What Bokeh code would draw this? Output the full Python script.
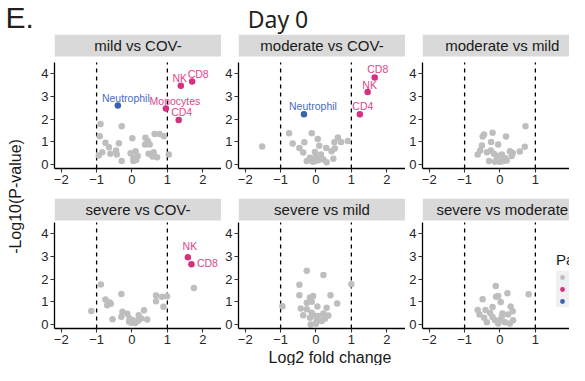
import math
from bokeh.plotting import figure
from bokeh.models import ColumnDataSource, FixedTicker, Legend, LegendItem, Range1d
from bokeh.layouts import row, column
from bokeh.embed import file_html
from bokeh.resources import INLINE
from bokeh.core.properties import value

# ---------------- data ----------------
FACETS = ["mild vs COV-", "moderate vs COV-", "moderate vs mild",
          "severe vs COV-", "severe vs mild", "severe vs moderate"]
X_TICKS = [-2, -1, 0, 1, 2]
Y_TICKS = [0, 1, 2, 3, 4]
FC_THRESH = [-1, 1]
LEGEND_TITLE = "Padj"
LEGEND_LABELS = ["NS", "Up", "Down"]
PANEL_LETTER = "E."
MAIN_TITLE = "Day 0"
X_TITLE = "Log2 fold change"
Y_TITLE = "-Log10(P-value)"

# non-significant (grey) cell types per comparison
ns_x_1 = [-0.89, -0.29, -0.91, -0.75, -0.37, -0.65, -0.84, -0.94, -0.61, -0.45, -0.43, -0.29, 0.01, -0.04,
          0.10, 0.04, 0.16, 0.04, 0.12, 0.38, 0.45, 0.50, 0.37, 0.64, 0.78, 0.90, 0.47, 0.61, 0.71, 0.58, 1.04]
ns_y_1 = [1.79, 1.69, 1.25, 0.96, 0.94, 0.76, 0.54, 0.40, 0.47, 0.62, 0.44, 0.15, 1.16, 0.50,
          0.59, 0.29, 0.37, 0.15, 0.20, 1.18, 1.03, 0.88, 0.88, 1.35, 1.35, 1.25, 0.47, 0.54, 0.32, 0.35, 0.44]
ns_x_2 = [-1.52, -0.76, -0.66, -0.33, -0.47, -0.36, -0.12, 0.05, 0.09, 0.29, -0.03, 0.00, 0.14, -0.17,
          -0.26, -0.09, 0.07, 0.21, 0.30, 0.49, 0.44, 0.53, 0.52, 0.62, 0.71, 0.90, -0.03, 0.13]
ns_y_2 = [0.79, 1.38, 0.93, 0.98, 0.73, 0.53, 1.38, 1.13, 0.83, 0.73, 0.55, 0.37, 0.44, 0.30,
          0.15, 0.12, 0.19, 0.22, 0.10, 0.25, 0.59, 0.71, 0.98, 1.19, 0.99, 1.04, 0.15, 0.27]
ns_x_3 = [0.72, 0.70, 0.56, -0.45, -0.49, -0.21, 0.17, -0.25, -0.05, -0.51, -0.56, -0.63, -0.37, -0.26,
          -0.17, 0.05, 0.14, -0.09, -0.31, 0.00, 0.09, 0.19, 0.28, 0.36, 0.33, -0.14, -0.05]
ns_y_3 = [1.69, 0.78, 0.57, 1.32, 1.24, 1.40, 1.24, 0.99, 0.88, 0.84, 0.62, 0.44, 0.54, 0.62,
          0.47, 0.44, 0.29, 0.22, 0.15, 0.12, 0.15, 0.18, 0.59, 0.51, 0.37, 0.12, 0.37]
ns_x_4 = [-0.88, 1.75, -0.30, -0.75, -0.63, -0.70, -0.60, -1.15, -0.55, -0.27, -0.30, -0.13, -0.07, 0.03,
          -0.08, 0.09, 0.19, 0.26, 0.34, 0.43, 0.68, 0.68, 0.85, 0.99, 0.89, 0.17, -0.02]
ns_y_4 = [1.77, 1.61, 1.35, 1.10, 0.97, 0.85, 0.92, 0.60, 0.23, 0.56, 0.34, 0.48, 0.26, 0.19,
          0.12, 0.07, 0.41, 0.26, 0.63, 0.22, 1.28, 1.03, 1.23, 1.25, 0.78, 0.15, 0.08]
ns_x_5 = [-0.26, 0.21, -0.47, 1.00, -0.47, 0.41, -0.08, -0.17, -0.26, 0.60, -0.95, -0.43, -0.26, 0.04,
          0.30, -0.36, -0.12, -0.05, 0.07, 0.21, 0.35, -0.17, 0.02, -0.15, 0.00, 0.16, 0.25, -0.12]
ns_y_5 = [2.37, 2.18, 1.75, 1.78, 1.29, 1.29, 1.26, 1.19, 0.96, 0.93, 0.81, 0.71, 0.67, 0.79,
          0.74, 0.41, 0.52, 0.40, 0.37, 0.49, 0.40, 0.30, 0.15, 0.00, 0.03, 0.15, 0.25, 1.00]
ns_x_6 = [-0.12, 0.21, 0.81, -0.05, -0.11, -0.49, 0.02, -0.21, 0.30, -0.41, -0.63, -0.58, -0.28, 0.36,
          0.23, -0.45, -0.37, -0.14, 0.00, 0.07, 0.14, -0.05, 0.28, 0.37, 0.05, -0.21]
ns_y_6 = [1.70, 1.38, 1.33, 1.26, 1.22, 1.11, 0.99, 0.77, 0.79, 0.64, 0.64, 0.44, 0.51, 0.59,
          0.44, 0.30, 0.10, 0.19, 0.19, 0.49, 0.10, 0.04, 0.04, 0.19, 0.34, 0.33]

# significant cell types per comparison
sig_name_1 = ["Neutrophil", "NK", "CD8", "Monocytes", "CD4"]
sig_x_1 = [-0.40, 1.38, 1.70, 0.96, 1.32]
sig_y_1 = [2.60, 3.47, 3.66, 2.47, 1.96]
sig_dir_1 = ["Down", "Up", "Up", "Up", "Up"]
sig_name_2 = ["CD8", "NK", "CD4", "Neutrophil"]
sig_x_2 = [1.66, 1.46, 1.24, -0.34]
sig_y_2 = [3.84, 3.20, 2.22, 2.22]
sig_dir_2 = ["Up", "Up", "Up", "Down"]
sig_name_4 = ["NK", "CD8"]
sig_x_4 = [1.58, 1.68]
sig_y_4 = [2.97, 2.66]
sig_dir_4 = ["Up", "Up"]

# label nudges (pixels, as placed by the repel step)
lab_dx_1 = [8, -1, 6, 9, 3]
lab_dy_1 = [-8, -8, -8, -8, -8]
lab_dx_2 = [3, 2, 3, 9]
lab_dy_2 = [-8, -7, -8, -8]
lab_dx_4 = [2, 16]
lab_dy_4 = [-11, -1]

NS_X = [ns_x_1, ns_x_2, ns_x_3, ns_x_4, ns_x_5, ns_x_6]
NS_Y = [ns_y_1, ns_y_2, ns_y_3, ns_y_4, ns_y_5, ns_y_6]
SIG = {0: (sig_name_1, sig_x_1, sig_y_1, sig_dir_1, lab_dx_1, lab_dy_1),
       1: (sig_name_2, sig_x_2, sig_y_2, sig_dir_2, lab_dx_2, lab_dy_2),
       3: (sig_name_4, sig_x_4, sig_y_4, sig_dir_4, lab_dx_4, lab_dy_4)}

# ---------------- style ----------------
GREY = "#BEBEBE"
PINK = "#D62F80"
BLUE = "#3A62B4"
PT_COL = {"Up": PINK, "Down": BLUE}
TXT_COL = {"Up": "#E0448C", "Down": "#4A6CC0"}
STRIP_BG = "#D9D9D9"
FONT = "Liberation Sans"

X0, X1 = -2.19, 2.53
Y0, Y1 = -0.176, 4.5
PANEL_W, PANEL_H = 167, 106
STRIP_H = 22
UX = PANEL_W / (X1 - X0)
UY = PANEL_H / (Y1 - Y0)


def make_panel(k, left, bottom, frame_w, gap):
    frame_h = PANEL_H + gap + STRIP_H
    y_strip0 = Y1 + gap / UY
    y_top = Y1 + (gap + STRIP_H) / UY
    x_end = X0 + frame_w / UX
    p = figure(width=left + frame_w, height=frame_h + bottom,
               x_range=Range1d(X0, x_end), y_range=Range1d(Y0, y_top),
               output_backend="svg", toolbar_location=None,
               min_border_left=left, min_border_right=0, min_border_top=0,
               min_border_bottom=bottom)
    p.outline_line_color = None
    p.xgrid.visible = False
    p.ygrid.visible = False
    p.background_fill_color = "white"

    # facet strip (title kept inside the visible part of a cropped panel)
    p.quad(left=[X0], right=[X1], bottom=[y_strip0], top=[y_top],
           fill_color=STRIP_BG, line_color=None)
    cx = min((X0 + X1) / 2, x_end - 1.9)
    p.text(x=[cx], y=[(y_strip0 + y_top) / 2], text=[FACETS[k]],
           text_align="center", text_baseline="middle",
           text_font=value(FONT), text_font_size="15px", text_color="#1A1A1A")

    # fold-change thresholds
    p.segment(x0=FC_THRESH, x1=FC_THRESH, y0=[Y0] * len(FC_THRESH), y1=[Y1] * len(FC_THRESH),
              line_color="black", line_width=1.3, line_dash="4 4")

    r_ns = p.scatter(x=NS_X[k], y=NS_Y[k], size=6.5, fill_color=GREY, line_color=None)
    if k in SIG:
        names, xs, ys, dirs, dx, dy = SIG[k]
        src = ColumnDataSource(dict(x=xs, y=ys, name=names,
                                    pc=[PT_COL[d] for d in dirs],
                                    tc=[TXT_COL[d] for d in dirs], dx=dx, dy=dy))
        p.scatter("x", "y", source=src, size=6.5, fill_color="pc", line_color=None)
        p.text("x", "y", text="name", source=src, x_offset="dx", y_offset="dy",
               text_align="center", text_baseline="middle", text_color="tc",
               text_font=value(FONT), text_font_size="10.5px")

    for ax in (p.xaxis[0], p.yaxis[0]):
        ax.axis_line_color = "black"
        ax.axis_line_width = 1.3
        ax.major_tick_line_color = "#333333"
        ax.major_tick_line_width = 1.1
        ax.major_tick_out = 4
        ax.major_tick_in = 0
        ax.minor_tick_line_color = None
        ax.major_label_text_font = FONT
        ax.major_label_text_font_size = "13px"
        ax.major_label_text_color = "#262626"
        ax.major_label_standoff = 2
    p.xaxis[0].ticker = FixedTicker(ticks=X_TICKS)
    p.yaxis[0].ticker = FixedTicker(ticks=Y_TICKS)
    p.yaxis[0].bounds = (Y0, Y1)
    return p, r_ns


def bare(width, height):
    # pixel-space canvas, y measured from the top
    f = figure(width=width, height=height, x_range=Range1d(0, width), y_range=Range1d(height, 0),
               x_axis_type=None, y_axis_type=None, output_backend="svg", toolbar_location=None,
               min_border_left=0, min_border_right=0, min_border_top=0, min_border_bottom=0)
    f.outline_line_color = None
    f.xgrid.visible = False
    f.ygrid.visible = False
    return f


HEAD_H = 34
B1, B2 = 30, 20
GAP1, GAP2 = 6, 2
YLAB_W = 32
FOOT_H = 17

panels = []
for k in range(6):
    c = k % 3
    b = B1 if k < 3 else B2
    g = GAP1 if k < 3 else GAP2
    if c == 0:
        pp = make_panel(k, 22, b, PANEL_W, g)
    elif c == 1:
        pp = make_panel(k, 17, b, PANEL_W, g)
    else:
        pp = make_panel(k, 17, b, 147, g)
    panels.append(pp)

# legend in the last panel (key-only renderers carry no visible point)
p6, r6 = panels[5]
r_up = p6.scatter(x=[float("nan")], y=[float("nan")], size=6.5, fill_color=PINK, line_color=None)
r_dn = p6.scatter(x=[float("nan")], y=[float("nan")], size=6.5, fill_color=BLUE, line_color=None)
leg = Legend(items=[LegendItem(label=LEGEND_LABELS[0], renderers=[r6], index=0),
                    LegendItem(label=LEGEND_LABELS[1], renderers=[r_up], index=0),
                    LegendItem(label=LEGEND_LABELS[2], renderers=[r_dn], index=0)],
             title=LEGEND_TITLE, location=(134, 21))
leg.background_fill_alpha = 0
leg.border_line_color = None
leg.padding = 0
leg.margin = 0
leg.spacing = 0
leg.glyph_width = 12
leg.glyph_height = 12
leg.label_height = 12
leg.label_text_font = FONT
leg.label_text_font_size = "10px"
leg.title_text_font = FONT
leg.title_text_font_size = "15px"
leg.title_text_font_style = "normal"
leg.title_text_color = "#1A1A1A"
leg.title_standoff = 3
leg.item_background_policy = "every"
leg.item_background_fill_color = "#F0F0F2"
leg.item_background_fill_alpha = 1.0
p6.add_layout(leg)

# header, y-title, x-title
header = bare(569, HEAD_H)
header.text(x=[5], y=[17], text=[PANEL_LETTER], text_font=value(FONT),
            text_font_size="30px", text_color="#231F20", text_baseline="middle",
            text_align="left")
header.text(x=[277.5], y=[18], text=[MAIN_TITLE], text_font=value("Noto Sans"),
            text_font_size="23px", text_color="#231F20", text_baseline="middle",
            text_align="center")

grid_h = (PANEL_H + GAP1 + STRIP_H + B1) + (PANEL_H + GAP2 + STRIP_H + B2)
ylab = bare(YLAB_W, grid_h)
ylab.text(x=[15], y=[196 - HEAD_H], text=[Y_TITLE], angle=math.pi / 2,
          text_font=value(FONT), text_font_size="16px", text_color="#1A1A1A",
          text_align="center", text_baseline="middle")

footer = bare(569, FOOT_H)
footer.text(x=[329.5], y=[8.5], text=[X_TITLE], text_font=value(FONT), text_font_size="16px",
            text_color="#1A1A1A", text_align="center", text_baseline="middle")

grid = column(row(*[pp[0] for pp in panels[:3]]), row(*[pp[0] for pp in panels[3:]]))
layout = column(header, row(ylab, grid), footer)

open("out.html", "w").write(file_html(layout, INLINE))
